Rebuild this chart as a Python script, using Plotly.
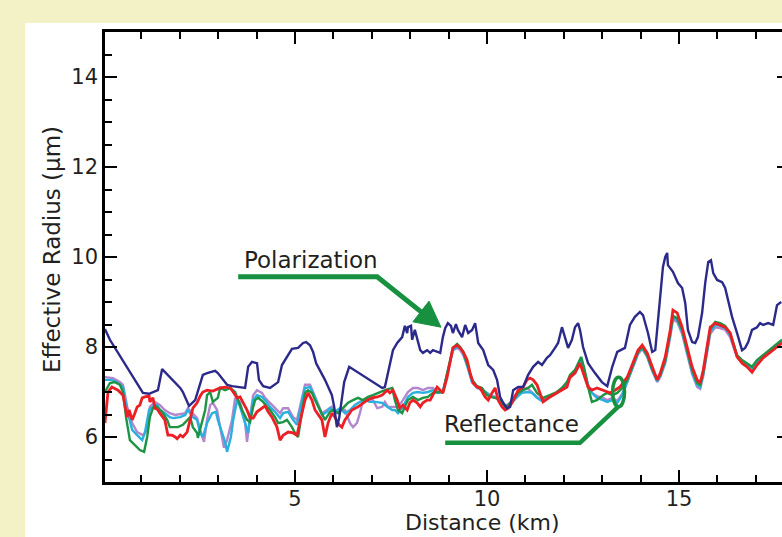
import plotly.graph_objects as go

# ---------------- data ----------------
pol_x = [0.05,0.18,1.04,1.20,1.43,1.54,2.01,2.08,2.24,2.32,2.40,2.60,2.71,2.92,2.99,3.23,3.36,3.70,3.78,3.88,
         4.01,4.06,4.17,4.35,4.48,4.56,4.66,4.79,4.92,5.08,5.21,5.29,5.39,5.47,5.55,5.78,5.96,6.02,6.09,6.15,
         6.22,6.28,6.41,7.27,7.34,7.55,7.66,7.79,7.86,7.92,7.94,8.02,8.05,8.12,8.26,8.33,8.44,8.52,8.59,8.70,
         8.78,8.85,8.91,8.98,9.06,9.11,9.19,9.24,9.35,9.43,9.51,9.61,9.69,9.77,9.90,10.03,10.16,10.26,10.34,10.42,
         10.52,10.60,10.68,10.81,10.94,11.07,11.20,11.33,11.43,11.56,11.64,11.77,11.85,11.95,12.03,12.11,12.21,12.29,12.37,12.42,
         12.50,12.63,12.81,12.99,13.13,13.26,13.39,13.59,13.72,13.85,13.98,14.06,14.19,14.30,14.38,14.51,14.58,14.64,14.69,14.71,
         14.84,14.97,15.08,15.16,15.23,15.34,15.42,15.49,15.60,15.68,15.76,15.83,15.89,15.99,16.12,16.20,16.28,16.38,16.51,16.64,
         16.72,16.80,16.90,17.03,17.11,17.19,17.32,17.45,17.55,17.66]
pol_y = [8.40,8.16,6.98,6.96,7.04,7.51,7.09,7.00,6.69,6.76,6.82,7.38,7.42,7.47,7.42,7.16,7.13,7.09,7.56,7.67,
         7.64,7.27,7.13,7.09,7.16,7.22,7.60,7.78,7.96,7.98,8.09,8.11,8.04,7.89,7.64,7.27,6.93,6.67,6.22,6.42,
         6.89,7.22,7.56,7.09,7.11,7.93,8.09,8.22,8.47,8.31,8.44,8.47,8.16,8.38,7.93,7.87,7.93,7.87,7.93,7.89,
         7.87,8.22,8.42,8.53,8.47,8.31,8.51,8.38,8.22,8.49,8.31,8.38,8.53,8.09,7.93,7.60,7.49,7.27,6.89,6.76,
         6.64,6.67,7.04,7.11,7.11,7.38,7.56,7.67,7.60,7.76,7.82,7.98,8.09,8.44,8.22,7.98,8.16,8.44,8.53,8.38,
         8.00,7.64,7.42,7.22,7.13,7.56,7.89,7.98,8.49,8.67,8.78,8.71,8.31,7.89,7.93,9.04,9.78,10.00,10.09,9.82,
         9.67,9.42,9.31,8.98,8.38,8.11,8.09,8.22,8.76,9.42,9.89,9.93,9.64,9.49,9.44,9.31,9.04,8.67,8.31,7.93,
         7.98,8.11,8.38,8.44,8.53,8.49,8.53,8.49,8.93,9.00]

red_x = [0.05,0.13,0.23,0.39,0.52,0.63,0.68,0.76,0.83,0.89,0.96,1.02,1.09,1.20,1.22,1.30,1.35,1.41,1.48,1.61,
         1.69,1.80,1.88,1.93,2.01,2.08,2.19,2.27,2.34,2.45,2.53,2.60,2.71,2.86,3.05,3.18,3.31,3.39,3.49,3.57,
         3.65,3.75,3.83,3.91,4.01,4.14,4.22,4.30,4.40,4.53,4.61,4.69,4.82,4.95,5.05,5.18,5.26,5.34,5.44,5.52,
         5.70,5.78,5.86,5.96,6.04,6.15,6.22,6.30,6.48,6.64,6.77,6.88,7.01,7.14,7.27,7.40,7.47,7.55,7.66,7.73,
         7.81,7.92,7.99,8.07,8.18,8.26,8.33,8.44,8.52,8.59,8.70,8.78,8.85,8.96,9.04,9.11,9.22,9.30,9.38,9.48,
         9.56,9.64,9.74,9.82,9.95,10.03,10.13,10.21,10.29,10.39,10.47,10.55,10.65,10.73,10.81,10.94,11.04,11.12,11.20,11.30,
         11.46,11.64,11.82,11.95,12.08,12.16,12.29,12.42,12.50,12.63,12.73,12.86,13.02,13.20,13.33,13.46,13.65,13.80,13.93,14.04,
         14.17,14.30,14.43,14.51,14.64,14.77,14.84,14.95,15.08,15.21,15.34,15.47,15.55,15.63,15.73,15.81,15.94,16.07,16.20,16.33,
         16.41,16.51,16.64,16.77,16.90,17.03,17.19,17.37,17.55,17.68]
red_y = [6.31,7.00,7.11,7.04,6.93,6.44,6.60,6.38,6.53,6.67,6.71,6.87,6.89,6.91,6.78,6.87,6.64,6.62,6.53,6.38,
         6.04,6.04,6.00,5.96,6.04,6.00,6.11,6.38,6.64,6.76,6.91,7.00,7.04,7.02,7.09,7.11,7.09,7.00,6.87,6.89,
         6.76,6.60,6.42,6.42,6.56,6.64,6.69,6.56,6.44,6.22,5.93,6.04,6.11,6.09,6.04,6.53,6.82,6.98,6.82,6.60,
         6.38,6.00,6.31,6.53,6.44,6.27,6.22,6.38,6.60,6.67,6.76,6.82,6.87,6.89,6.93,7.04,6.98,7.04,6.82,6.64,
         6.71,6.60,6.76,6.82,6.76,6.67,6.76,6.82,6.82,6.93,7.11,7.04,6.98,7.33,7.71,7.98,8.04,7.98,7.89,7.71,
         7.42,7.20,7.11,7.09,6.89,6.82,6.98,7.09,6.82,6.67,6.60,6.64,6.76,6.89,7.04,7.11,7.27,7.31,7.27,7.16,
         6.78,6.89,6.98,7.04,7.11,7.33,7.42,7.64,7.42,7.11,7.04,7.09,7.04,6.98,7.04,7.11,7.33,7.64,7.93,8.04,
         7.87,7.56,7.27,7.42,7.78,8.38,8.82,8.76,8.44,8.00,7.56,7.27,7.20,7.49,8.00,8.44,8.53,8.49,8.44,8.31,
         8.09,7.78,7.64,7.56,7.44,7.60,7.76,7.87,8.00,8.09]

grn_x = [0.05,0.18,0.31,0.44,0.52,0.60,0.70,0.83,0.96,1.07,1.15,1.22,1.30,1.35,1.43,1.54,1.67,1.74,1.82,1.95,
         2.08,2.19,2.27,2.34,2.45,2.47,2.58,2.66,2.71,2.79,2.86,2.99,3.05,3.18,3.31,3.44,3.52,3.62,3.75,3.83,
         3.91,3.96,4.04,4.17,4.27,4.35,4.48,4.56,4.69,4.79,4.92,5.00,5.08,5.16,5.26,5.34,5.44,5.52,5.65,5.78,
         5.91,5.99,6.12,6.25,6.38,6.51,6.64,6.77,6.90,7.03,7.16,7.34,7.53,7.60,7.68,7.79,7.86,7.94,8.07,8.20,
         8.33,8.46,8.59,8.72,8.85,8.96,9.04,9.11,9.22,9.30,9.38,9.51,9.61,9.74,9.87,10.00,10.08,10.21,10.34,10.47,
         10.55,10.68,10.81,10.94,11.07,11.17,11.30,11.46,11.64,11.82,11.95,12.08,12.16,12.29,12.45,12.53,12.63,12.73,12.86,13.02,
         13.13,13.26,13.39,13.52,13.65,13.80,13.93,14.04,14.17,14.30,14.43,14.51,14.64,14.77,14.84,14.95,15.08,15.21,15.34,15.47,
         15.55,15.63,15.73,15.81,15.94,16.07,16.20,16.33,16.41,16.51,16.64,16.77,16.90,17.03,17.19,17.37,17.55,17.68]
grn_y = [7.00,7.20,7.22,7.16,7.00,6.44,5.93,5.82,5.71,5.67,6.00,6.44,6.64,6.71,6.64,6.56,6.38,6.22,6.22,6.22,
         6.27,6.38,6.44,6.22,6.09,5.98,6.38,6.60,6.93,7.00,6.78,6.87,7.09,7.04,7.09,7.00,6.82,6.60,6.38,6.33,
         6.67,6.82,6.87,6.78,6.67,6.60,6.44,6.31,6.33,6.38,6.22,6.09,6.00,6.44,6.98,7.04,6.98,6.82,6.60,6.38,
         6.56,6.60,6.53,6.64,6.76,6.82,6.87,6.82,6.89,6.93,6.98,7.04,7.09,6.82,6.60,6.53,6.67,6.82,6.89,6.82,
         6.87,6.89,6.98,7.00,7.00,7.38,7.71,7.98,8.07,8.00,7.89,7.56,7.27,7.13,7.09,6.93,6.89,6.87,6.82,6.67,
         6.71,6.82,6.98,7.04,7.09,7.16,6.98,6.87,6.93,7.00,7.09,7.22,7.38,7.49,7.78,7.53,7.11,6.78,6.82,6.93,
         6.98,6.93,6.98,7.09,7.27,7.60,7.89,8.00,7.82,7.51,7.27,7.38,7.71,8.31,8.69,8.64,8.38,7.93,7.49,7.20,
         7.16,7.44,7.93,8.38,8.56,8.53,8.47,8.31,8.09,7.82,7.71,7.64,7.56,7.71,7.82,7.93,8.07,8.16]

cyan_x = [0.05,0.23,0.39,0.52,0.63,0.76,0.89,1.02,1.09,1.20,1.30,1.41,1.48,1.61,1.74,1.82,2.01,2.14,2.21,2.34,
          2.45,2.53,2.60,2.71,2.84,2.94,2.99,3.10,3.18,3.23,3.33,3.39,3.49,3.57,3.70,3.78,3.83,3.91,4.01,4.14,
          4.22,4.35,4.48,4.61,4.69,4.82,4.95,5.05,5.13,5.26,5.39,5.47,5.57,5.70,5.83,5.91,6.04,6.17,6.30,6.43,
          6.56,6.69,6.82,6.95,7.08,7.27,7.40,7.53,7.60,7.68,7.81,7.94,8.07,8.20,8.33,8.46,8.59,8.72,8.85,8.96,
          9.04,9.11,9.22,9.30,9.38,9.51,9.61,9.74,9.87,10.00,10.13,10.26,10.39,10.52,10.65,10.78,10.91,11.04,11.17,11.30,
          11.46,11.64,11.82,11.95,12.08,12.16,12.29,12.45,12.53,12.63,12.73,12.86,13.02,13.13,13.26,13.39,13.52,13.65,13.80,13.93,
          14.04,14.17,14.30,14.43,14.51,14.64,14.77,14.84,14.95,15.08,15.21,15.34,15.47,15.55,15.63,15.73,15.81,15.94,16.07,16.20,
          16.33,16.41,16.51,16.64,16.77,16.90,17.03,17.19,17.37,17.55,17.68]
cyan_y = [7.27,7.27,7.20,7.11,6.60,6.16,6.04,5.93,6.09,6.60,6.67,6.71,6.60,6.53,6.44,6.42,6.44,6.49,6.60,6.44,
          6.38,6.09,6.00,6.31,6.53,6.56,6.38,6.09,5.89,5.67,6.00,6.38,6.82,6.67,6.31,6.09,6.44,6.82,6.93,6.89,
          6.82,6.67,6.56,6.42,6.53,6.56,6.38,6.27,6.60,7.09,7.11,6.98,6.76,6.49,6.56,6.64,6.56,6.64,6.53,6.60,
          6.71,6.78,6.82,6.78,6.78,6.76,6.67,6.60,6.60,6.53,6.67,6.89,6.98,7.00,6.98,7.00,7.04,6.98,7.00,7.38,
          7.71,7.93,8.00,7.98,7.87,7.53,7.22,7.11,7.04,6.98,6.89,6.87,6.76,6.67,6.76,6.89,6.98,7.00,6.98,6.87,
          6.78,6.89,6.98,7.07,7.20,7.33,7.44,7.71,7.49,7.16,6.98,6.87,6.82,6.78,6.82,6.76,6.93,7.22,7.58,7.87,
          7.98,7.80,7.49,7.24,7.36,7.67,8.27,8.64,8.60,8.33,7.89,7.44,7.16,7.11,7.40,7.89,8.33,8.49,8.47,8.42,
          8.27,8.04,7.80,7.69,7.62,7.53,7.67,7.80,7.91,8.04,8.13]

pur_x = [0.05,0.26,0.44,0.52,0.63,0.76,0.89,1.04,1.15,1.22,1.35,1.48,1.61,1.74,1.88,2.01,2.14,2.21,2.34,2.45,
         2.53,2.63,2.71,2.79,2.86,2.97,3.05,3.15,3.23,3.36,3.44,3.57,3.70,3.75,3.83,3.91,4.01,4.14,4.22,4.35,
         4.48,4.61,4.69,4.82,4.95,5.05,5.13,5.26,5.39,5.47,5.57,5.70,5.83,5.96,6.04,6.17,6.30,6.43,6.51,6.61,
         6.69,6.77,6.90,7.03,7.14,7.27,7.34,7.42,7.55,7.68,7.81,7.94,8.07,8.20,8.33,8.46,8.59,8.72,8.85,8.96,
         9.04,9.11,9.22,9.30,9.38,9.51,9.61,9.74,9.87,10.00,10.08,10.21,10.34,10.47,10.60,10.73,10.91,11.04,11.17,11.30,
         11.46,11.64,11.82,11.95,12.08,12.16,12.29,12.45,12.53,12.63,12.73,12.86,13.02,13.13,13.26,13.39,13.52,13.65,13.80,13.93,
         14.04,14.17,14.30,14.43,14.51,14.64,14.77,14.84,14.95,15.08,15.21,15.34,15.47,15.55,15.63,15.73,15.81,15.94,16.07,16.20,
         16.33,16.41,16.51,16.64,16.77,16.90,17.03,17.19,17.37,17.55,17.68]
pur_y = [7.33,7.31,7.22,7.16,6.67,6.31,6.11,6.04,6.16,6.67,6.78,6.71,6.60,6.53,6.49,6.51,6.53,6.64,6.53,6.42,
         6.16,5.89,6.38,6.71,6.76,6.60,6.22,5.76,5.93,6.38,6.87,6.78,6.31,5.89,6.44,6.93,7.04,6.98,6.87,6.76,
         6.64,6.53,6.64,6.64,6.44,6.38,6.67,7.16,7.16,7.00,6.82,6.53,6.60,6.67,6.53,6.60,6.60,6.31,6.22,6.31,
         6.53,6.82,6.87,6.82,6.64,6.67,6.78,6.67,6.67,6.67,6.82,7.00,7.09,7.09,7.04,7.09,7.09,7.00,7.00,7.38,
         7.67,7.93,7.98,7.93,7.82,7.53,7.22,7.09,7.04,6.98,6.93,6.89,6.82,6.67,6.76,6.93,7.04,7.09,7.00,6.89,
         6.82,6.91,7.00,7.09,7.20,7.31,7.42,7.69,7.47,7.13,6.98,6.91,6.87,6.82,6.87,6.80,6.96,7.22,7.56,7.84,
         7.96,7.78,7.47,7.22,7.33,7.64,8.22,8.60,8.56,8.29,7.84,7.40,7.11,7.07,7.36,7.84,8.29,8.44,8.42,8.38,
         8.22,8.02,7.78,7.67,7.60,7.51,7.64,7.78,7.89,8.02,8.11]

x_tick_vals = [5, 10, 15]
y_tick_vals = [6, 8, 10, 12, 14]
x_title = "Distance (km)"
y_title = "Effective Radius (µm)"
label_pol = "Polarization"
label_ref = "Reflectance"

FONT = "DejaVu Sans"
TXT = "#231f20"
GREEN = "#17913f"

fig = go.Figure()
series = [
    (pur_x, pur_y, "#b487cc", 2.4),
    (cyan_x, cyan_y, "#28b0de", 2.4),
    (grn_x, grn_y, "#1c9443", 2.4),
    (red_x, red_y, "#ec1f25", 2.8),
    (pol_x, pol_y, "#2b2a8a", 2.4),
]
for xs, ys, col, w in series:
    fig.add_trace(go.Scatter(x=xs, y=ys, mode="lines", line=dict(color=col, width=w),
                             showlegend=False, hoverinfo="skip"))
# empty trace to carry the right-hand stub-tick axis
fig.add_trace(go.Scatter(x=[], y=[], yaxis="y2", showlegend=False, hoverinfo="skip"))

# white panel on pale yellow background
fig.add_shape(type="rect", xref="paper", yref="paper", x0=-0.118, x1=1.05, y0=-0.2, y1=1.02,
              fillcolor="white", line=dict(width=0), layer="below")

# Polarization pointer
fig.add_shape(type="path", xref="x", yref="y",
              path="M 3.52 9.56 L 7.14 9.56 L 8.30 8.77",
              line=dict(color=GREEN, width=5))
fig.add_shape(type="path", xref="x", yref="y",
              path="M 8.80 8.44 L 8.49 9.02 L 8.07 8.56 Z",
              fillcolor=GREEN, line=dict(color=GREEN, width=1))
# Reflectance pointer
fig.add_shape(type="path", xref="x", yref="y",
              path="M 8.91 5.87 L 12.42 5.87 L 13.41 6.67",
              line=dict(color=GREEN, width=4.5))
fig.add_shape(type="circle", xref="x", yref="y", x0=13.27, x1=13.58, y0=6.67, y1=7.33,
              line=dict(color=GREEN, width=3.5))

fig.add_annotation(x=5.42, y=9.93, xref="x", yref="y", text=label_pol, showarrow=False,
                   font=dict(family=FONT, size=23, color=TXT))
fig.add_annotation(x=10.63, y=6.29, xref="x", yref="y", text=label_ref, showarrow=False,
                   font=dict(family=FONT, size=23, color=TXT))

# axis titles (the original figure is cropped on the right, so titles are off-centre)
fig.add_annotation(x=0.558, y=-0.091, xref="paper", yref="paper", text=x_title, showarrow=False,
                   xanchor="center", yanchor="middle",
                   font=dict(family=FONT, size=22, color=TXT))
fig.add_annotation(x=-0.078, y=0.516, xref="paper", yref="paper", text=y_title, showarrow=False,
                   textangle=-90, xanchor="center", yanchor="middle",
                   font=dict(family=FONT, size=23, color=TXT))

TICKFONT = dict(family=FONT, size=21, color=TXT)
fig.update_xaxes(range=[0.052, 17.68], tickvals=x_tick_vals,
                 showgrid=False, zeroline=False, showline=True, linecolor="black", linewidth=2.5,
                 ticks="inside", ticklen=12, tickwidth=2, tickcolor="black", mirror="ticks",
                 tickfont=TICKFONT, ticklabelstandoff=-4,
                 minor=dict(dtick=1, tick0=0, ticks="inside", ticklen=7, tickwidth=2, tickcolor="black"))
fig.update_yaxes(range=[5, 15], tickvals=y_tick_vals,
                 showgrid=False, zeroline=False, showline=True, linecolor="black", linewidth=2.5,
                 ticks="inside", ticklen=12, tickwidth=2, tickcolor="black", mirror=False,
                 tickfont=TICKFONT,
                 minor=dict(dtick=0.5, tick0=0, ticks="inside", ticklen=7, tickwidth=2, tickcolor="black"))

fig.update_layout(width=782, height=537, autosize=False,
                  margin=dict(l=105, r=0, t=32, b=55),
                  paper_bgcolor="#f3f2c6", plot_bgcolor="white",
                  font=dict(family=FONT, color=TXT),
                  yaxis2=dict(overlaying="y", side="right", range=[5, 15], tickvals=y_tick_vals,
                              showticklabels=False, showgrid=False, zeroline=False, showline=False,
                              ticks="inside", ticklen=5, tickwidth=2, tickcolor="black"))

fig.write_html("out.html")
